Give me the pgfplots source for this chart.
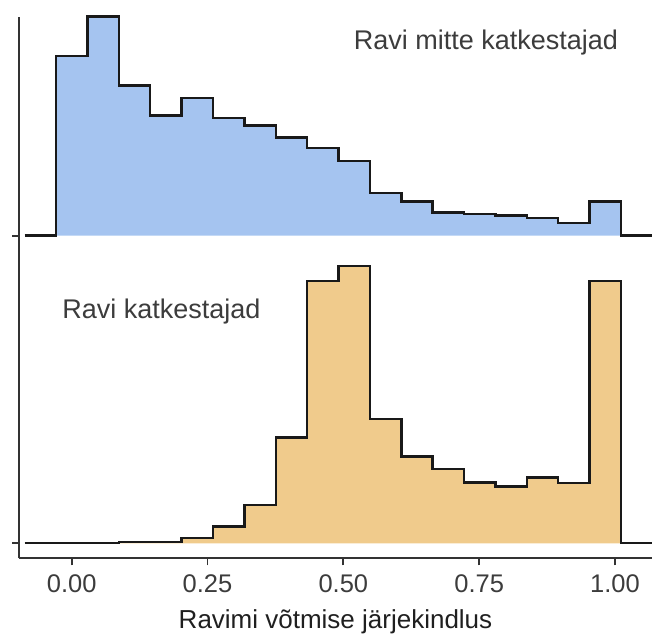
\documentclass[border=0pt]{standalone}
\usepackage{fontspec}
\setmainfont{Liberation Sans}
\usepackage{pgfplots}
\pgfplotsset{compat=1.18}
\usepackage{pgfplotstable}
\definecolor{fillblue}{HTML}{A5C4F0}
\definecolor{filltan}{HTML}{F0CB8C}
\definecolor{axgrey}{HTML}{333333}
\definecolor{txtgrey}{HTML}{3C3C3C}

% top ridge: Ravi mitte katkestajad (bin left edge, height)
\pgfplotstableread{
x h
-0.0867 0
-0.0289 179.7
0.0289 219
0.0867 150
0.1444 120
0.2022 137.7
0.2600 117.4
0.3178 110
0.3756 98
0.4333 87.4
0.4911 74.7
0.5489 42.4
0.6067 34
0.6644 23
0.7222 21.4
0.7800 20
0.8378 17.4
0.8955 12.4
0.9533 34
1.0111 0
1.0689 0
}\topdata

% bottom ridge: Ravi katkestajad
\pgfplotstableread{
x h
-0.0867 0
-0.0289 0
0.0289 0
0.0867 1.3
0.1444 1.3
0.2022 5
0.2600 16.7
0.3178 38.3
0.3756 105.7
0.4333 262.3
0.4911 277.3
0.5489 124.3
0.6067 86.7
0.6644 74.3
0.7222 60.7
0.7800 56.7
0.8378 65.7
0.8955 60
0.9533 262.3
1.0111 0
1.0689 0
}\botdata

\begin{document}
\begin{tikzpicture}
\path[use as bounding box] (0,0) rectangle (652bp,634bp);
\begin{axis}[
  at={(19bp,75.7bp)}, anchor=south west,
  scale only axis, width=633bp, height=541.6bp,
  xmin=-0.0970, xmax=1.0681, ymin=-15, ymax=526.6,
  axis x line*=bottom, axis y line*=left,
  axis line style={axgrey, line width=1.8bp, -},
  xtick={0,0.25,0.5,0.75,1},
  xticklabels={0.00,0.25,0.50,0.75,1.00},
  ytick={0,307.6}, yticklabels={},
  tick align=outside, major tick length=7bp,
  tick style={axgrey, line width=1.8bp},
  xticklabel style={anchor=base, font=\fontsize{25.5bp}{30bp}\selectfont, text=txtgrey, yshift=-26.7bp},
  clip=false,
  xlabel={Ravimi võtmise järjekindlus},
  xlabel style={at={(axis description cs:0.5,0)}, anchor=base, yshift=-70bp, font=\fontsize{26bp}{30bp}\selectfont, text=black!88},
]
\addplot[const plot, fill=filltan, draw=black!90, line width=2.4bp] table[x=x, y=h] {\botdata};
\addplot[const plot, fill=fillblue, draw=black!90, line width=2.4bp] table[x=x, y expr=\thisrow{h}+307.6] {\topdata};
\node[anchor=base west, font=\fontsize{27bp}{32bp}\selectfont, text=txtgrey] at (axis cs:0.513,493.3) {Ravi mitte katkestajad};
\node[anchor=base west, font=\fontsize{27bp}{32bp}\selectfont, text=txtgrey] at (axis cs:-0.0235,225) {Ravi katkestajad};
\end{axis}
\end{tikzpicture}
\end{document}
